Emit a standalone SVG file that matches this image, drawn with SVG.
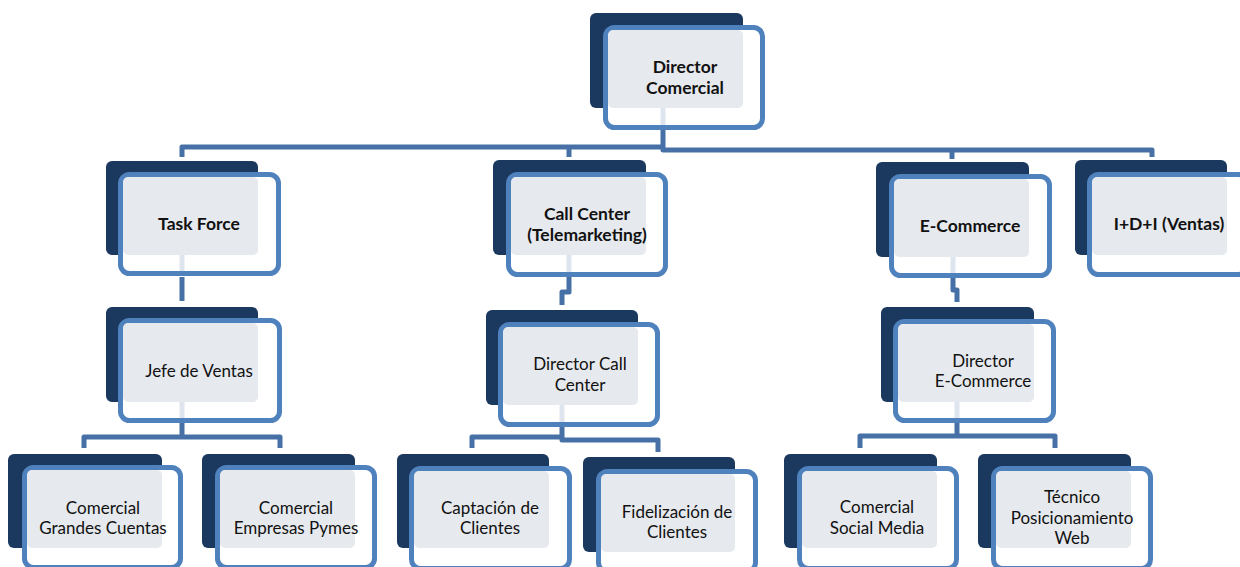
<svg xmlns="http://www.w3.org/2000/svg" width="1240" height="567" viewBox="0 0 1240 567">
<style>
.dark{fill:#1b385f}
.frame{fill:#ffffff;stroke:#4f81bd;stroke-width:5}
.fill{fill:#e6e9ee}
.t{font-family:Lato,"Liberation Sans",sans-serif;font-size:17px;fill:#111;text-anchor:middle}
.b{font-weight:bold;font-size:17.5px}
.con{fill:none;stroke:#4670a6;stroke-width:5;stroke-linejoin:round}
.ghost{fill:none;stroke:#dfe5ee;stroke-width:5}
</style>
<rect width="1240" height="567" fill="#ffffff"/>

<g id="connectors">
<path class="con" d="M182,157 V147 H663"/>
<path class="con" d="M663,130 V150 H1152 V157"/>
<path class="con" d="M569,147 V157"/>
<path class="con" d="M952,150 V159"/>
<path class="con" d="M182,277 V301"/>
<path class="con" d="M569,277 V292 H562 V305"/>
<path class="con" d="M953,278 V290 H957 V302"/>
<path class="con" d="M182,423 V437"/>
<path class="con" d="M84,448 V437 H280 V448"/>
<path class="con" d="M472,448 V437 H562"/>
<path class="con" d="M562,427 V440 H658 V452"/>
<path class="con" d="M957,423 V436"/>
<path class="con" d="M860,448 V436 H1055 V448"/>
</g>

<g id="n-director-comercial">
<rect class="dark" x="590" y="13" width="153" height="95" rx="6"/>
<rect class="frame" x="605.5" y="27.5" width="157" height="100" rx="9"/>
<rect class="fill" x="608" y="30" width="135" height="78" rx="5"/>
<line class="ghost" x1="663" y1="108" x2="663" y2="125"/>
<text class="t b" x="685" y="73">Director</text>
<text class="t b" x="685" y="94">Comercial</text>
</g>

<g id="n-task-force">
<rect class="dark" x="106" y="161" width="152" height="94" rx="6"/>
<rect class="frame" x="120.5" y="174.5" width="158" height="99" rx="9"/>
<rect class="fill" x="123" y="177" width="135" height="78" rx="5"/>
<line class="ghost" x1="182" y1="255" x2="182" y2="271"/>
<text class="t b" x="199" y="230">Task Force</text>
</g>

<g id="n-call-center">
<rect class="dark" x="493" y="160" width="153" height="95" rx="6"/>
<rect class="frame" x="508.5" y="174.5" width="157" height="100" rx="9"/>
<rect class="fill" x="511" y="177" width="135" height="78" rx="5"/>
<line class="ghost" x1="569" y1="255" x2="569" y2="272"/>
<text class="t b" x="587" y="220">Call Center</text>
<text class="t b" x="587" y="241">(Telemarketing)</text>
</g>

<g id="n-e-commerce">
<rect class="dark" x="876" y="162" width="153" height="95" rx="6"/>
<rect class="frame" x="891.5" y="176.5" width="158" height="99" rx="9"/>
<rect class="fill" x="894" y="179" width="135" height="78" rx="5"/>
<line class="ghost" x1="953" y1="257" x2="953" y2="273"/>
<text class="t b" x="970" y="232">E-Commerce</text>
</g>

<g id="n-idi-ventas">
<rect class="dark" x="1075" y="160" width="152" height="95" rx="6"/>
<rect class="frame" x="1089.5" y="174.5" width="158" height="100" rx="9"/>
<rect class="fill" x="1092" y="177" width="135" height="78" rx="5"/>
<text class="t b" x="1169" y="230">I+D+I (Ventas)</text>
</g>

<g id="n-jefe-ventas">
<rect class="dark" x="106" y="307" width="152" height="95" rx="6"/>
<rect class="frame" x="120.5" y="320.5" width="159" height="100" rx="9"/>
<rect class="fill" x="123" y="323" width="135" height="79" rx="5"/>
<line class="ghost" x1="182" y1="402" x2="182" y2="418"/>
<text class="t" x="199" y="377">Jefe de Ventas</text>
</g>

<g id="n-director-call-center">
<rect class="dark" x="486" y="310" width="152" height="95" rx="6"/>
<rect class="frame" x="500.5" y="324.5" width="157" height="100" rx="9"/>
<rect class="fill" x="503" y="327" width="135" height="78" rx="5"/>
<line class="ghost" x1="562" y1="405" x2="562" y2="422"/>
<text class="t" x="580" y="370">Director Call</text>
<text class="t" x="580" y="391">Center</text>
</g>

<g id="n-director-e-commerce">
<rect class="dark" x="881" y="307" width="153" height="95" rx="6"/>
<rect class="frame" x="895.5" y="321.5" width="158" height="99" rx="9"/>
<rect class="fill" x="898" y="324" width="136" height="78" rx="5"/>
<line class="ghost" x1="957" y1="402" x2="957" y2="418"/>
<text class="t" x="983" y="367">Director</text>
<text class="t" x="983" y="387">E-Commerce</text>
</g>

<g id="n-comercial-grandes-cuentas">
<rect class="dark" x="8" y="454" width="154" height="94" rx="6"/>
<rect class="frame" x="24.5" y="467.5" width="156" height="100" rx="9"/>
<rect class="fill" x="27" y="470" width="135" height="78" rx="5"/>
<text class="t" x="103" y="514">Comercial</text>
<text class="t" x="103" y="534">Grandes Cuentas</text>
</g>

<g id="n-comercial-empresas-pymes">
<rect class="dark" x="202" y="454" width="153" height="94" rx="6"/>
<rect class="frame" x="217.5" y="467.5" width="157" height="100" rx="9"/>
<rect class="fill" x="220" y="470" width="135" height="78" rx="5"/>
<text class="t" x="296" y="514">Comercial</text>
<text class="t" x="296" y="534">Empresas Pymes</text>
</g>

<g id="n-captacion-clientes">
<rect class="dark" x="397" y="454" width="152" height="94" rx="6"/>
<rect class="frame" x="411.5" y="468.5" width="158" height="100" rx="9"/>
<rect class="fill" x="414" y="471" width="135" height="77" rx="5"/>
<text class="t" x="490" y="514">Captación de</text>
<text class="t" x="490" y="534">Clientes</text>
</g>

<g id="n-fidelizacion-clientes">
<rect class="dark" x="583" y="457" width="152" height="95" rx="6"/>
<rect class="frame" x="598.5" y="471.5" width="157" height="100" rx="9"/>
<rect class="fill" x="601" y="474" width="134" height="78" rx="5"/>
<text class="t" x="677" y="518">Fidelización de</text>
<text class="t" x="677" y="538">Clientes</text>
</g>

<g id="n-comercial-social-media">
<rect class="dark" x="784" y="454" width="153" height="94" rx="6"/>
<rect class="frame" x="799.5" y="468.5" width="157" height="100" rx="9"/>
<rect class="fill" x="802" y="471" width="135" height="77" rx="5"/>
<text class="t" x="877" y="513">Comercial</text>
<text class="t" x="877" y="534">Social Media</text>
</g>

<g id="n-tecnico-posicionamiento-web">
<rect class="dark" x="978" y="454" width="153" height="94" rx="6"/>
<rect class="frame" x="993.5" y="468.5" width="157" height="100" rx="9"/>
<rect class="fill" x="996" y="471" width="135" height="77" rx="5"/>
<text class="t" x="1072" y="503">Técnico</text>
<text class="t" x="1072" y="524">Posicionamiento</text>
<text class="t" x="1072" y="544">Web</text>
</g>
</svg>
